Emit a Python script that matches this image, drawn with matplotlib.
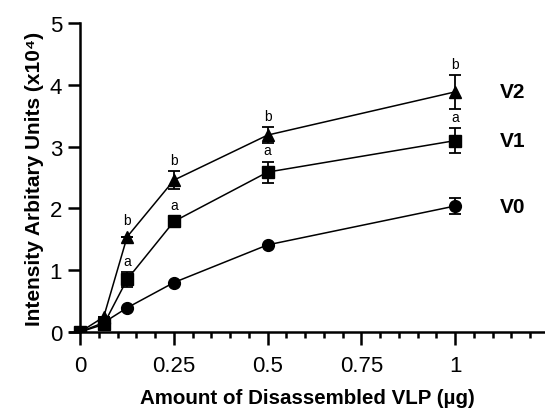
import matplotlib.pyplot as plt
import numpy as np
from matplotlib.ticker import MultipleLocator

plt.rcParams['font.family'] = ['Liberation Sans', 'DejaVu Sans']

dose = [0, 0.0625, 0.125, 0.25, 0.5, 1]
v0 = [0, 0.15, 0.39, 0.80, 1.41, 2.04]
v0_err = [0, 0, 0, 0, 0, 0.13]
v1 = [0, 0.12, 0.85, 1.79, 2.59, 3.10]
v1_err = [0, 0, 0.12, 0, 0.17, 0.20]
v2 = [0, 0.24, 1.54, 2.46, 3.19, 3.89]
v2_err = [0, 0, 0, 0.14, 0.13, 0.27]
series_names = ['V0', 'V1', 'V2']
v1_letters = ['', '', 'a', 'a', 'a', 'a']
v2_letters = ['', '', 'b', 'b', 'b', 'b']

fig = plt.figure(figsize=(5.45, 4.14), dpi=100)
ax = fig.add_axes([0.128, 0.196, 0.872, 0.745])

markers = ['o', 's', '^']
for vals, errs, m, name in zip([v0, v1, v2], [v0_err, v1_err, v2_err], markers, series_names):
    ax.errorbar(dose, vals, yerr=errs, color='black', marker=m, markersize=8.5,
                linewidth=1.1, elinewidth=1.3, capsize=4.3, capthick=1.3, zorder=3)
    ax.text(1.12, vals[-1], name, fontsize=15, fontweight='bold', va='center', ha='left')

for vals, errs, letters in [(v1, v1_err, v1_letters), (v2, v2_err, v2_letters)]:
    for x, y, e, t in zip(dose, vals, errs, letters):
        if t:
            ax.annotate(t, (x, y + e), xytext=(0, 7 if e == 0 else 3), textcoords='offset points',
                        ha='center', va='bottom', fontsize=10)

ax.set_xlim(-0.028, 1.24)
ax.set_ylim(0, 5)
ax.spines['left'].set_position(('data', 0))
ax.spines['top'].set_visible(False)
ax.spines['right'].set_visible(False)
for s in ['left', 'bottom']:
    ax.spines[s].set_linewidth(1.8)

ax.set_xticks([0, 0.25, 0.5, 0.75, 1])
ax.set_xticklabels(['0', '0.25', '0.5', '0.75', '1'])
ax.xaxis.set_minor_locator(MultipleLocator(0.05))
ax.set_yticks([0, 1, 2, 3, 4, 5])
ax.tick_params(axis='both', which='major', length=9, width=1.8, labelsize=16, pad=4)
ax.tick_params(axis='x', which='minor', length=4.5, width=1.8)
ax.tick_params(axis='x', which='major', pad=8)

ax.set_xlabel('Amount of Disassembled VLP (µg)', fontsize=14.8, fontweight='bold', labelpad=8)
ax.set_ylabel('Intensity Arbitary Units (x10⁴)', fontsize=15, fontweight='bold', labelpad=4)

fig.savefig('out.png', dpi=100)
